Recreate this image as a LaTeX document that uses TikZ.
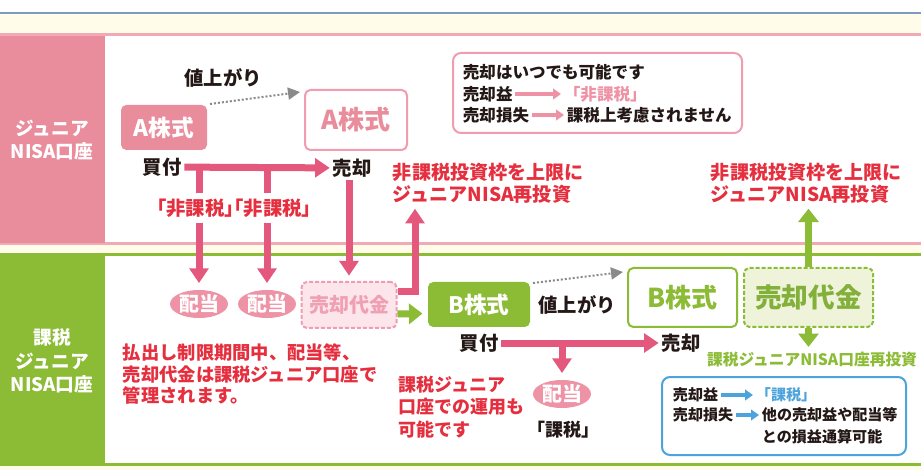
\documentclass[tikz,border=0pt]{standalone}
\usepackage{fontspec}
\setmainfont{Noto Sans CJK JP}
\usepackage{tikz}
\usetikzlibrary{arrows.meta,calc,shapes.geometric}

\definecolor{ink}{HTML}{231815}
\definecolor{cream}{HTML}{FFFCEA}
\definecolor{topline}{HTML}{7D9AC0}
\definecolor{pinkband}{HTML}{E98C9C}
\definecolor{pinkline}{HTML}{F2A9B6}
\definecolor{pinkedge}{HTML}{F09DB0}
\definecolor{pinkarr}{HTML}{E4587D}
\definecolor{pinksoft}{HTML}{EE92A5}
\definecolor{pinkpale}{HTML}{FCE5EB}
\definecolor{pinkcash}{HTML}{EFA0B2}
\definecolor{redtxt}{HTML}{E62F3E}
\definecolor{greenband}{HTML}{8CBB35}
\definecolor{greenpale}{HTML}{EEF3DA}
\definecolor{greentxt}{HTML}{82B03A}
\definecolor{bluebox}{HTML}{4DA4DC}
\definecolor{arrgray}{HTML}{8A8A8A}

\begin{document}
\begin{tikzpicture}[x=0.75pt, y=-0.75pt,
    txt/.style={inner sep=2pt, text=ink, font=\bfseries\fontsize{14.5}{17}\selectfont},
    notetxt/.style={inner sep=2pt, anchor=west, align=left, text=redtxt,
      font=\bfseries\fontsize{13.7}{16.3}\selectfont},
    sidetxt/.style={text=white, align=center, font=\bfseries\fontsize{14}{17.8}\selectfont},
    legtxt/.style={inner sep=2pt, anchor=west, text=ink, font=\bfseries\fontsize{12.4}{16}\selectfont},
    bluetxt/.style={inner sep=2pt, anchor=west, text=ink, font=\bfseries\fontsize{11.3}{16.5}\selectfont},
    fillbox/.style={rounded corners=4pt, inner sep=0pt, text=white,
      font=\bfseries\fontsize{17}{17}\selectfont},
    outbox/.style={rounded corners=4pt, line width=1.5pt, fill=white, inner sep=0pt,
      font=\bfseries\fontsize{19.5}{19.5}\selectfont},
    cashbox/.style={rounded corners=4pt, line width=1.5pt, dash pattern=on 3pt off 1.5pt, inner sep=0pt},
    divnode/.style={ellipse, fill=pinksoft, text=white, minimum width=43.5pt, minimum height=21pt,
      inner sep=0pt, font=\bfseries\fontsize{15}{15}\selectfont},
    pinkarrow/.style={draw=pinkarr, line width=5.25pt, -{Triangle[width=14pt,length=11pt]}},
    greenarrow/.style={draw=greenband, line width=5.25pt, -{Triangle[width=15pt,length=10pt]}},
    gainarrow/.style={draw=arrgray, line width=1.5pt, dash pattern=on 1.5pt off 1.5pt,
      -{Triangle[width=9pt,length=9pt]}},
    legarrow/.style={line width=3pt, -{Triangle[width=8pt,length=6pt]}}]
  \useasboundingbox (0,0) rectangle (921,470);
  % Zones
  \fill[white] (0,0) rectangle (921,470);
  \fill[cream] (0,14) rectangle (921,470);
  \draw[topline, line width=1.2pt] (0,13) -- (921,13);
  \draw[pinkline, line width=2.25pt, fill=white] (-3,35) rectangle (924,244); % Junior NISA
  \fill[pinkband] (0,36.5) rectangle (105,243);
  \draw[greenband, line width=2.25pt, fill=white] (-3,255) rectangle (924,464.5); % taxable
  \fill[greenband] (0,256.5) rectangle (105,463);
  \node[sidetxt] (colA) at (52,140) {ジュニア\\NISA口座};
  \node[sidetxt] (colB) at (52,361) {課税\\ジュニア\\NISA口座};

  % Junior NISA account
  \node[txt] (gainA) at (223,78) {値上がり};
  \node[fillbox, fill=pinkband, minimum width=64.5pt, minimum height=33.75pt] (aFill) at (164,127.5) {A株式};
  \node[outbox, draw=pinkedge, text=pinkband, minimum width=76.5pt, minimum height=45pt] (aOut) at (356,120) {A株式};
  \coordinate (gainA0) at (210,104);
  \coordinate (gainA1) at (300,92);
  \draw[gainarrow] (gainA0) -- (gainA1);
  \node[txt] (buyA) at (162,167) {買付};
  \node[txt] (sellA) at (352,168) {売却};
  \node[divnode] (divA1) at (199,304) {配当};
  \node[divnode] (divA2) at (267,304) {配当};
  \node[cashbox, draw=pinkedge, fill=pinkpale, text=pinkcash, minimum width=71.25pt, minimum height=34.5pt,
    font=\bfseries\fontsize{15}{15}\selectfont] (procA) at (349,305) {売却代金};
  \node[notetxt, font=\bfseries\fontsize{14.3}{16.5}\selectfont] (reinvA) at (390,183) {非課税投資枠を上限に\\ジュニアNISA再投資};
  \draw[pinkarrow] (buyA) -- (sellA);
  \draw[pinkarrow, shorten >=5pt] (divA1 |- buyA) -- (divA1);
  \draw[pinkarrow, shorten >=5pt] (divA2 |- buyA) -- (divA2);
  \draw[pinkarrow, shorten >=4pt] (procA |- sellA.south) -- (procA);
  \node[txt, text=redtxt, fill=white, inner sep=4pt] (taxfreeA) at (234,208)
    {\kern-.5em「非課税」\kern-1em「非課税」\kern-.5em};
  \coordinate (turnA) at (415,292);
  \draw[pinkarrow, shorten >=2pt] (procA.east |- turnA) -- (turnA) -- (turnA |- reinvA.south);

  % legend, tax free
  \draw[pinkedge, line width=1.5pt, rounded corners=6pt] (453,53) rectangle (742,133);
  \node[legtxt] (legA0) at (460,72) {売却はいつでも可能です};
  \node[legtxt] (legA1) at (460,94) {売却益};
  \node[legtxt, text=pinksoft] (legA2) at (561,94) {「非課税」};
  \node[legtxt] (legA3) at (460,115) {売却損失};
  \node[legtxt] (legA4) at (564,115) {課税上考慮されません};
  \draw[legarrow, draw=pinksoft] (legA1) -- (legA2);
  \draw[legarrow, draw=pinksoft] (legA3) -- (legA4);

  % taxable junior account
  \node[fillbox, fill=greenband, minimum width=76.5pt, minimum height=33.75pt] (bFill) at (479,304.5) {B株式};
  \draw[greenarrow, shorten >=4pt] ($(procA.east)+(0,9)$) -- ($(bFill.west)+(0,9)$);
  \node[txt] (gainB) at (577,305) {値上がり};
  \coordinate (gainB0) at (533,283);
  \coordinate (gainB1) at (623,272);
  \draw[gainarrow] (gainB0) -- (gainB1);
  \node[outbox, draw=greenband, text=greenband, minimum width=81.75pt, minimum height=44.25pt] (bOut) at (682.5,297.5) {B株式};
  \node[cashbox, draw=greenband, fill=greenpale, text=greentxt, minimum width=96.75pt, minimum height=44.25pt,
    font=\bfseries\fontsize{20}{20}\selectfont] (procB) at (808.5,297.5) {売却代金};
  \node[notetxt, font=\bfseries\fontsize{14.3}{16.5}\selectfont] (reinvB) at (708,183) {非課税投資枠を上限に\\ジュニアNISA再投資};
  \node[txt, text=greenband, font=\bfseries\fontsize{11.8}{14}\selectfont] (greenNote) at (812,360) {課税ジュニアNISA口座再投資};
  \draw[greenarrow, shorten >=2pt] (procB) -- (procB |- reinvB.south);
  \draw[greenarrow, shorten >=2pt] (procB) -- (procB |- greenNote.north);
  \node[txt] (buyB) at (479,343) {買付};
  \node[txt] (sellB) at (681,343) {売却};
  \node[divnode] (divB) at (562,394) {配当};
  \draw[pinkarrow] (buyB) -- (sellB);
  \draw[pinkarrow, shorten >=5pt] (divB |- buyB) -- (divB);
  \node[txt, font=\bfseries\fontsize{13.5}{16}\selectfont] (taxB) at (563,430) {「課税」};

  % notes
  \node[notetxt] (noteA) at (120,374) {払出し制限期間中、配当等、\\売却代金は課税ジュニア口座で\\管理されます。};
  \node[notetxt, font=\bfseries\fontsize{13.5}{16.9}\selectfont] (noteB) at (396,407) {課税ジュニア\\口座での運用も\\可能です};

  % legend, taxable
  \draw[bluebox, line width=1.5pt, rounded corners=6pt] (662,377) rectangle (906,455);
  \node[bluetxt] (legB1) at (670,395) {売却益};
  \node[bluetxt, text=bluebox] (legB2) at (753,395) {「課税」};
  \node[bluetxt] (legB3) at (670,415) {売却損失};
  \node[bluetxt, align=left] (legB4) at (759,426) {他の売却益や配当等\\との損益通算可能};
  \draw[legarrow, draw=bluebox] (legB1) -- (legB2);
  \draw[legarrow, draw=bluebox] (legB3) -- (legB3 -| legB4.west);
\end{tikzpicture}
\end{document}
